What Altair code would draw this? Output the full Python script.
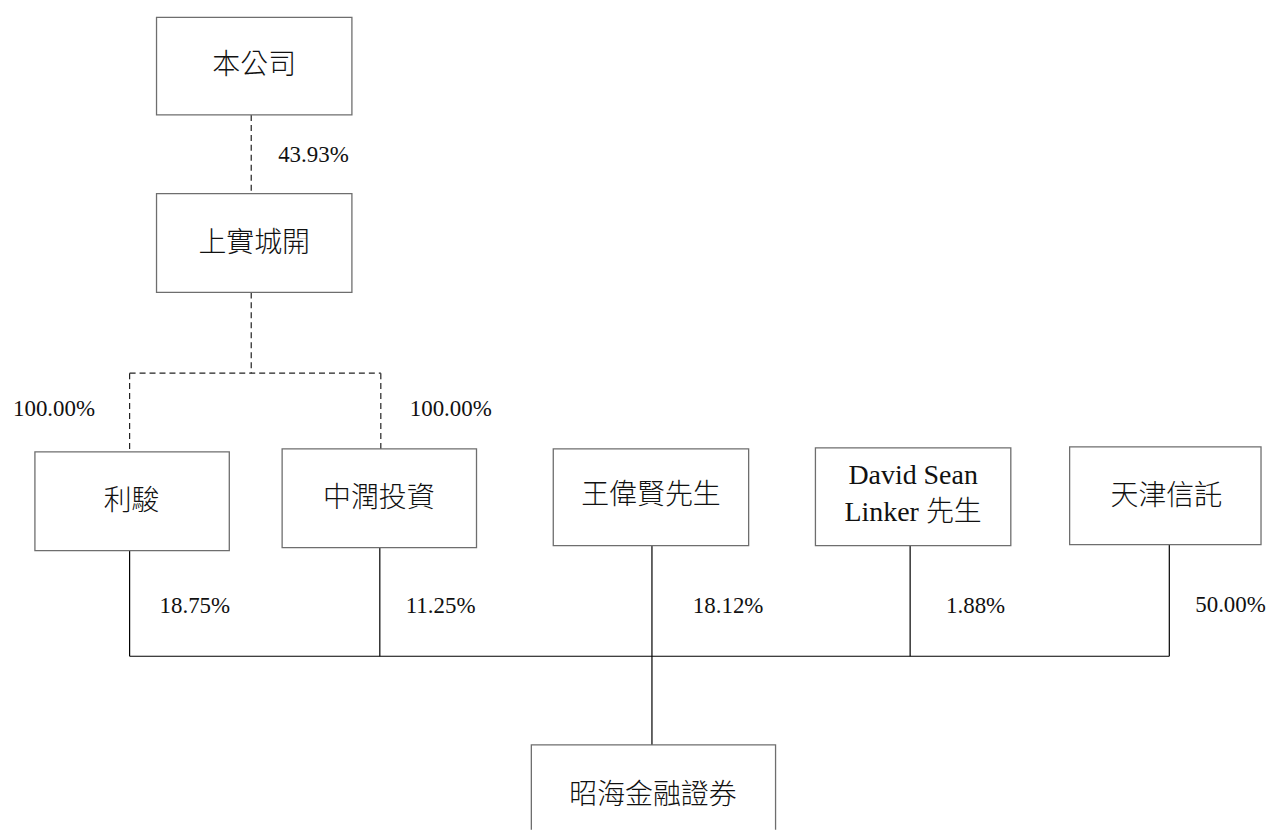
import altair as alt
import pandas as pd

# ---- content ----
entities = ["本公司", "上實城開", "利駿", "中潤投資", "王偉賢先生",
            "David Sean\nLinker 先生", "天津信託", "昭海金融證券"]
stakes = ["43.93%", "100.00%", "100.00%", "18.75%", "11.25%", "18.12%", "1.88%", "50.00%"]
# link kinds: dashed = indirect holding chain, solid = direct shareholding
link_kind = ["dashed"] * 5 + ["solid"] * 6

# ---- layout (page pixel coordinates) ----
box_x0 = [157, 157, 35, 283, 555, 818, 1073, 533]
box_x1 = [353, 353, 230, 478, 751, 1014, 1265, 778]
box_y0 = [16, 193, 452, 449, 449, 448, 447, 746]
box_y1 = [114, 292, 551, 548, 546, 546, 545, 860]
text_x = [255, 255, 132, 380, 653, 916, 1170, 655]
text_y = [65, 243, 502, 499, 496, 476, 497, 797]

stake_x = [279, 13, 411, 160, 407, 695, 949, 1199]
stake_y = [154, 409, 409, 607, 607, 607, 607, 606]

seg_x0 = [252, 252, 130, 130, 382, 130, 381, 654, 913, 1173, 130]
seg_y0 = [114, 292, 373, 373, 373, 551, 548, 546, 546, 545, 657]
seg_x1 = [252, 252, 382, 130, 382, 130, 381, 654, 913, 1173, 1173]
seg_y1 = [193, 373, 373, 452, 449, 657, 657, 746, 657, 657, 657]

boxes = pd.DataFrame({
    "name": entities, "x": box_x0, "x2": box_x1, "y": box_y0, "y2": box_y1,
    "tx": text_x, "ty": text_y,
})
labels = pd.DataFrame({"label": stakes, "x": stake_x, "y": stake_y})
segs = pd.DataFrame({"x": seg_x0, "y": seg_y0, "x2": seg_x1, "y2": seg_y1, "kind": link_kind})

W, H = 1258, 823
xs = alt.Scale(domain=[8, 8 + W], nice=False, zero=False)
ys = alt.Scale(domain=[8, 8 + H], nice=False, zero=False, reverse=True)

dashed = alt.Chart(segs).transform_filter(alt.datum.kind == "dashed").mark_rule(
    color="#222222", strokeWidth=1.2, strokeDash=[6, 4]
).encode(
    x=alt.X("x:Q", scale=xs, axis=None), y=alt.Y("y:Q", scale=ys, axis=None),
    x2="x2:Q", y2="y2:Q",
)
solid = alt.Chart(segs).transform_filter(alt.datum.kind == "solid").mark_rule(
    color="#000000", strokeWidth=1.2
).encode(
    x=alt.X("x:Q", scale=xs, axis=None), y=alt.Y("y:Q", scale=ys, axis=None),
    x2="x2:Q", y2="y2:Q",
)
rects = alt.Chart(boxes).mark_rect(
    fill="white", stroke="#6e6e6e", strokeWidth=1.3, clip=True
).encode(
    x=alt.X("x:Q", scale=xs, axis=None), y=alt.Y("y:Q", scale=ys, axis=None),
    x2="x2:Q", y2="y2:Q",
)
names = alt.Chart(boxes).mark_text(
    font="Liberation Serif, Noto Sans CJK TC", fontSize=28, fontWeight=300,
    color="#111111", align="center", baseline="middle", lineBreak="\n", lineHeight=37,
).encode(
    x=alt.X("tx:Q", scale=xs, axis=None), y=alt.Y("ty:Q", scale=ys, axis=None),
    text="name:N",
)
pcts = alt.Chart(labels).mark_text(
    font="Liberation Serif", fontSize=23, color="#111111",
    align="left", baseline="middle",
).encode(
    x=alt.X("x:Q", scale=xs, axis=None), y=alt.Y("y:Q", scale=ys, axis=None),
    text="label:N",
)

chart = alt.layer(dashed, solid, rects, names, pcts).properties(
    width=W, height=H, padding=0
).configure_view(stroke=None)

chart.save("out.html", embed_options={"renderer": "svg", "actions": False})
